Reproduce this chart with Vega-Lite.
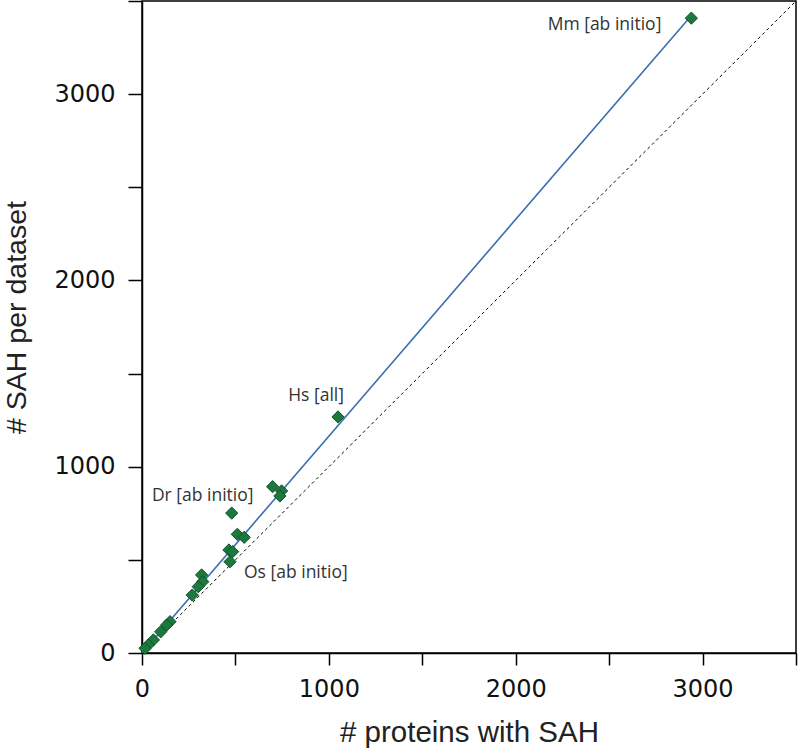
{
  "$schema": "https://vega.github.io/schema/vega-lite/v6.json",
  "width": 654,
  "height": 652,
  "autosize": "none",
  "padding": {"left": 142, "top": 1, "right": 3, "bottom": 95},
  "background": "white",
  "config": {
    "view": {"stroke": "black", "strokeWidth": 1.5},
    "axis": {
      "grid": false,
      "domainColor": "black",
      "domainWidth": 1.5,
      "tickColor": "black",
      "tickWidth": 1.5,
      "labelFont": "DejaVu Sans",
      "labelFontSize": 24,
      "labelColor": "#111111",
      "labelFlush": false,
      "labelOverlap": false,
      "titleFont": "Liberation Sans",
      "titleFontWeight": "normal",
      "titleColor": "#222222"
    }
  },
  "datasets": {
    "points": [
      {"x": 2940, "y": 3408, "label": "Mm [ab initio]"},
      {"x": 1049, "y": 1267, "label": "Hs [all]"},
      {"x": 699, "y": 893, "label": ""},
      {"x": 747, "y": 870, "label": ""},
      {"x": 738, "y": 843, "label": ""},
      {"x": 480, "y": 751, "label": "Dr [ab initio]"},
      {"x": 510, "y": 637, "label": ""},
      {"x": 547, "y": 621, "label": ""},
      {"x": 465, "y": 553, "label": ""},
      {"x": 485, "y": 544, "label": ""},
      {"x": 471, "y": 490, "label": "Os [ab initio]"},
      {"x": 319, "y": 419, "label": ""},
      {"x": 325, "y": 383, "label": ""},
      {"x": 301, "y": 356, "label": ""},
      {"x": 269, "y": 311, "label": ""},
      {"x": 150, "y": 168, "label": ""},
      {"x": 132, "y": 150, "label": ""},
      {"x": 100, "y": 114, "label": ""},
      {"x": 61, "y": 70, "label": ""},
      {"x": 34, "y": 43, "label": ""},
      {"x": 16, "y": 25, "label": ""}
    ],
    "diagonal": [{"x": 0, "y": 0}, {"x": 3500, "y": 3500}],
    "fit": [{"x": 0, "y": 0}, {"x": 2930, "y": 3410}]
  },
  "encoding": {
    "x": {
      "field": "x",
      "type": "quantitative",
      "scale": {"domain": [0, 3500], "nice": false, "zero": false},
      "axis": {
        "title": "# proteins with SAH",
        "titleFontSize": 29.5,
        "values": [0, 500, 1000, 1500, 2000, 2500, 3000, 3500],
        "labelExpr": "datum.value % 1000 == 0 ? format(datum.value, 'd') : ''",
        "tickSize": 12,
        "labelPadding": 12,
        "titlePadding": 17
      }
    },
    "y": {
      "field": "y",
      "type": "quantitative",
      "scale": {"domain": [0, 3500], "nice": false, "zero": false},
      "axis": {
        "title": "# SAH per dataset",
        "titleFontSize": 28.5,
        "titleX": -117,
        "titleY": 316,
        "titleBaseline": "alphabetic",
        "titleAlign": "center",
        "titleAngle": -90,
        "values": [0, 500, 1000, 1500, 2000, 2500, 3000, 3500],
        "labelExpr": "datum.value % 1000 == 0 ? format(datum.value, 'd') : ''",
        "tickSize": 14,
        "labelPadding": 13
      }
    }
  },
  "layer": [
    {
      "data": {"name": "diagonal"},
      "mark": {"type": "line", "color": "black", "strokeWidth": 1, "strokeDash": [3, 3]},
      "encoding": {}
    },
    {
      "data": {"name": "fit"},
      "mark": {"type": "line", "color": "#3a6fb0", "strokeWidth": 1.6},
      "encoding": {}
    },
    {
      "data": {"name": "points"},
      "mark": {"type": "point", "shape": "diamond", "filled": true, "size": 150, "fill": "#1d783d", "stroke": "#0f5228", "strokeWidth": 1, "opacity": 1}
    },
    {
      "data": {"name": "points"},
      "transform": [{"filter": "datum.label == 'Mm [ab initio]'"}],
      "mark": {"type": "text", "align": "right", "baseline": "middle", "dx": -30, "dy": 7, "font": "Open Sans", "fontSize": 17.5, "color": "#333333"},
      "encoding": {"text": {"field": "label"}}
    },
    {
      "data": {"name": "points"},
      "transform": [{"filter": "datum.label == 'Hs [all]'"}],
      "mark": {"type": "text", "align": "right", "baseline": "middle", "dx": 6, "dy": -21, "font": "Open Sans", "fontSize": 17.5, "color": "#333333"},
      "encoding": {"text": {"field": "label"}}
    },
    {
      "data": {"name": "points"},
      "transform": [{"filter": "datum.label == 'Dr [ab initio]'"}],
      "mark": {"type": "text", "align": "center", "baseline": "middle", "dx": -29, "dy": -17, "font": "Open Sans", "fontSize": 17.5, "color": "#333333"},
      "encoding": {"text": {"field": "label"}}
    },
    {
      "data": {"name": "points"},
      "transform": [{"filter": "datum.label == 'Os [ab initio]'"}],
      "mark": {"type": "text", "align": "left", "baseline": "middle", "dx": 14, "dy": 11, "font": "Open Sans", "fontSize": 17.5, "color": "#333333"},
      "encoding": {"text": {"field": "label"}}
    }
  ]
}
